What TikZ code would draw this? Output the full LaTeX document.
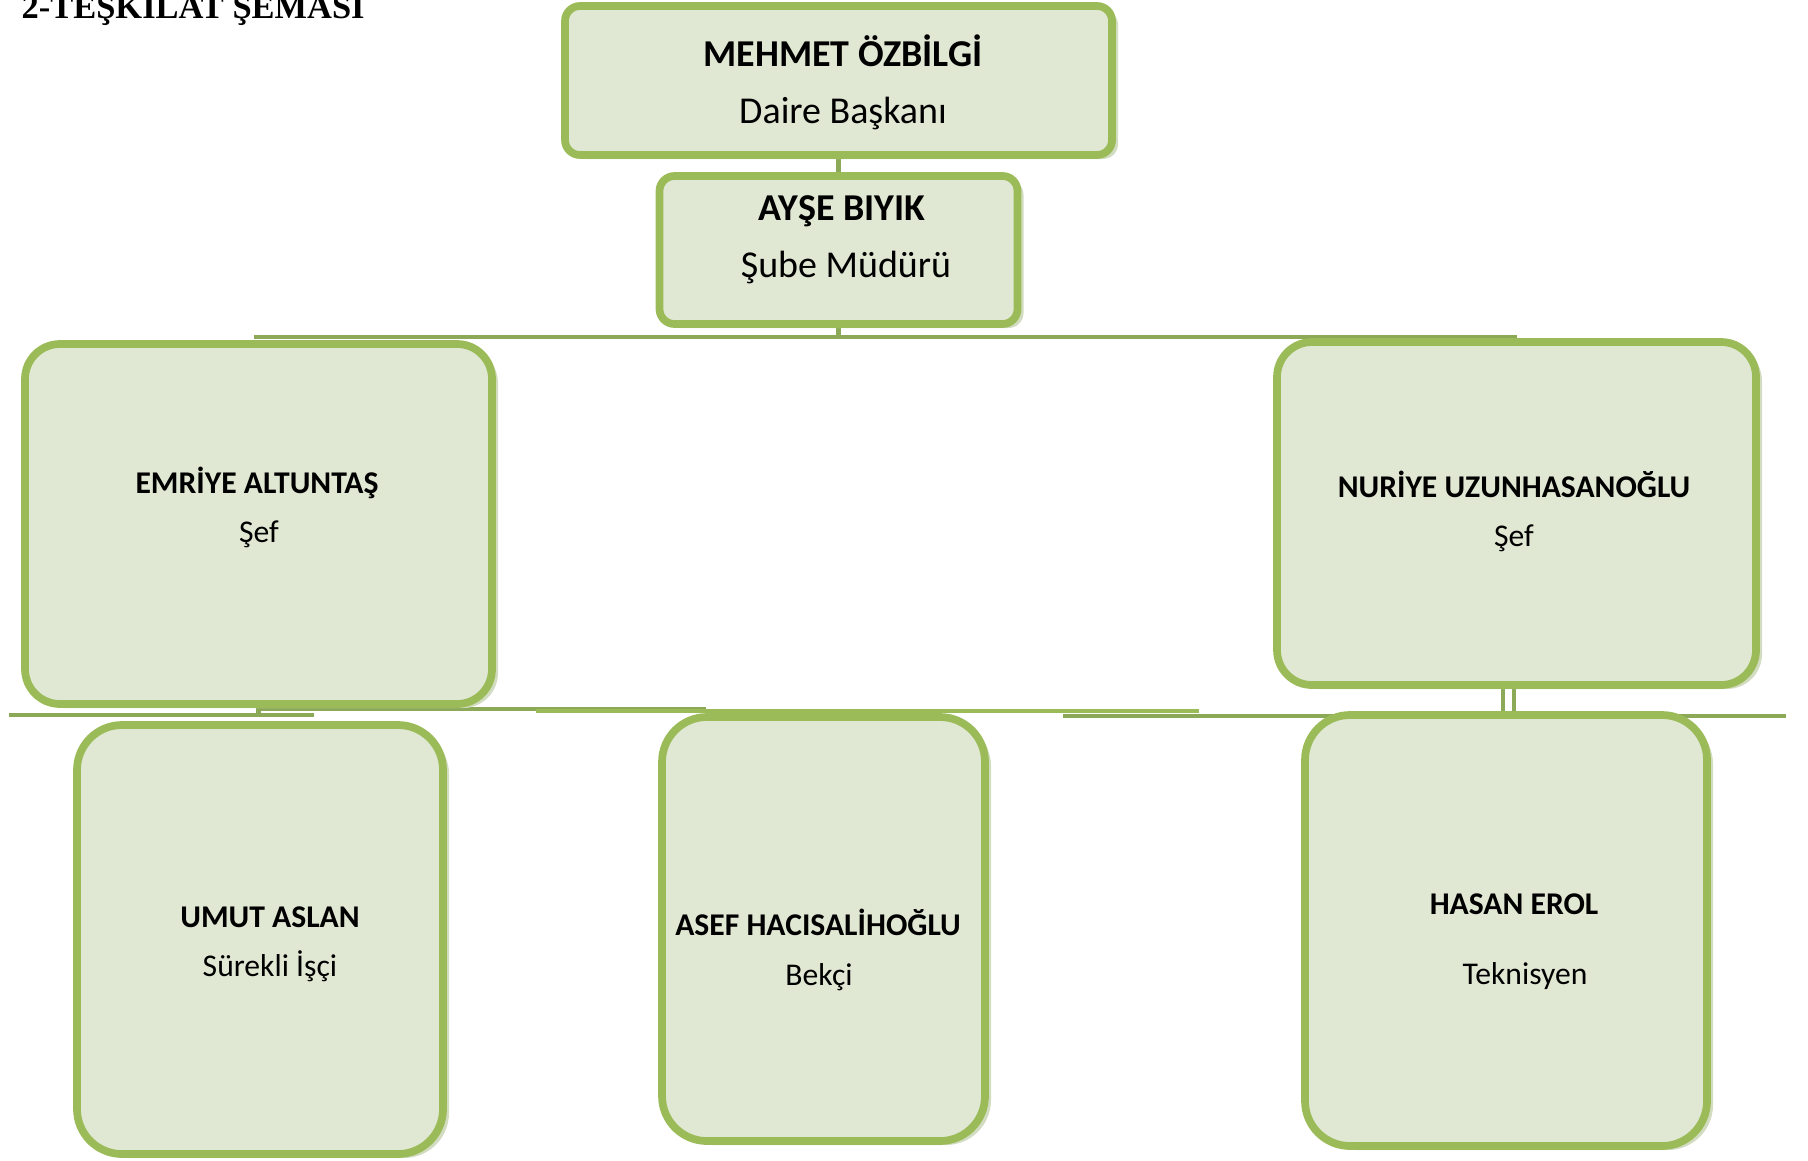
\documentclass[tikz,border=0pt]{standalone}
\usepackage{fontspec}
\setmainfont{Carlito}
\newfontfamily\titlefont{Liberation Serif}
\usetikzlibrary{positioning, shadows, backgrounds}

\definecolor{boxfill}{HTML}{E0E8D3}
\definecolor{boxline}{HTML}{9BBB59}
\definecolor{linecol}{HTML}{8CA958}
\definecolor{shadowcol}{HTML}{D2DCC0}

\begin{document}
\begin{tikzpicture}[
    box/.style={draw=boxline, line width=2.2pt, fill=boxfill, inner sep=0pt,
        drop shadow={shadow xshift=0.06cm, shadow yshift=-0.04cm, fill=shadowcol, opacity=1}},
    headname/.style={anchor=base, font=\fontsize{10.8pt}{13pt}\selectfont\bfseries},
    headrole/.style={anchor=base, font=\fontsize{10.8pt}{13pt}\selectfont},
    staffname/.style={anchor=base, font=\fontsize{9pt}{11pt}\selectfont\bfseries},
    staffrole/.style={anchor=base, font=\fontsize{9pt}{11pt}\selectfont},
    conn/.style={draw=linecol, line width=1.4pt},
    thinconn/.style={draw=linecol, line width=1.1pt}]

    \useasboundingbox (0,0) rectangle (18.08,-11.6);

    % Title
    \node[anchor=base west, inner sep=0pt] (title) at (0.21,-0.18)
        {\titlefont\bfseries\fontsize{9.8pt}{12pt}\selectfont 2-TEŞKİLAT ŞEMASI};

    % Daire Baskani
    \node[box, rounded corners=0.15cm, minimum width=5.47cm, minimum height=1.49cm] (mehmet) at (8.385,-0.805) {};
    \node[headname] (mehmetn) at (8.43,-0.66) {MEHMET ÖZBİLGİ};
    \node[headrole] (mehmetr) at (8.43,-1.23) {Daire Başkanı};

    % Sube Muduru
    \node[box, rounded corners=0.15cm, minimum width=3.58cm, minimum height=1.48cm] (ayse) at (8.385,-2.50) {};
    \node[headname] (aysen) at (8.42,-2.20) {AYŞE BIYIK};
    \node[headrole] (ayser) at (8.46,-2.77) {Şube Müdürü};

    % Sefler
    \node[box, rounded corners=0.35cm, minimum width=4.67cm, minimum height=3.60cm] (emriye) at (2.585,-5.24) {};
    \node[staffname] (emriyen) at (2.57,-4.93) {EMRİYE ALTUNTAŞ};
    \node[staffrole] (emriyer) at (2.59,-5.42) {Şef};

    \node[box, rounded corners=0.35cm, minimum width=4.79cm, minimum height=3.43cm] (nuriye) at (15.165,-5.135) {};
    \node[staffname] (nuriyen) at (15.14,-4.97) {NURİYE UZUNHASANOĞLU};
    \node[staffrole] (nuriyer) at (15.14,-5.46) {Şef};

    % Personel
    \node[box, rounded corners=0.45cm, minimum width=3.66cm, minimum height=4.29cm] (umut) at (2.60,-9.395) {};
    \node[staffname] (umutn) at (2.70,-9.27) {UMUT ASLAN};
    \node[staffrole] (umutr) at (2.70,-9.76) {Sürekli İşçi};

    \node[box, rounded corners=0.45cm, minimum width=3.23cm, minimum height=4.24cm] (asef) at (8.235,-9.29) {};
    \node[staffname] (asefn) at (8.18,-9.35) {ASEF HACISALİHOĞLU};
    \node[staffrole] (asefr) at (8.19,-9.85) {Bekçi};

    \node[box, rounded corners=0.45cm, minimum width=4.02cm, minimum height=4.31cm] (hasan) at (15.06,-9.305) {};
    \node[staffname] (hasann) at (15.14,-9.14) {HASAN EROL};
    \node[staffrole] (hasanr) at (15.25,-9.84) {Teknisyen};

    % Connectors
    \coordinate (busL) at (2.54,-3.37);
    \coordinate (busR) at (15.17,-3.37);
    \coordinate (a1) at (0.09,-7.15);
    \coordinate (a2) at (3.14,-7.15);
    \coordinate (b1) at (2.56,-7.09);
    \coordinate (b2) at (7.06,-7.09);
    \coordinate (c1) at (5.36,-7.11);
    \coordinate (c2) at (11.99,-7.11);
    \coordinate (d1) at (10.63,-7.16);
    \coordinate (d2) at (17.86,-7.16);
    \begin{scope}[on background layer]
        \draw[conn] (mehmet.south) -- (ayse.north);
        \draw[conn] (ayse.south) -- (ayse.south |- busL);
        \draw[conn] (busL) -- (busR);
        \draw[conn] (emriye.south) -- (emriye.south |- a1);
        \draw[conn] (a1) -- (a2);
        \draw[conn] (b1) -- (b2);
        \draw[conn, draw=boxline] (c1) -- (c2);
        \draw[conn] (d1) -- (d2);
        \draw[thinconn] ([xshift=-0.135cm]nuriye.south) -- ++(0,-0.25);
        \draw[thinconn] ([xshift=-0.025cm]nuriye.south) -- ++(0,-0.25);
    \end{scope}
\end{tikzpicture}
\end{document}
